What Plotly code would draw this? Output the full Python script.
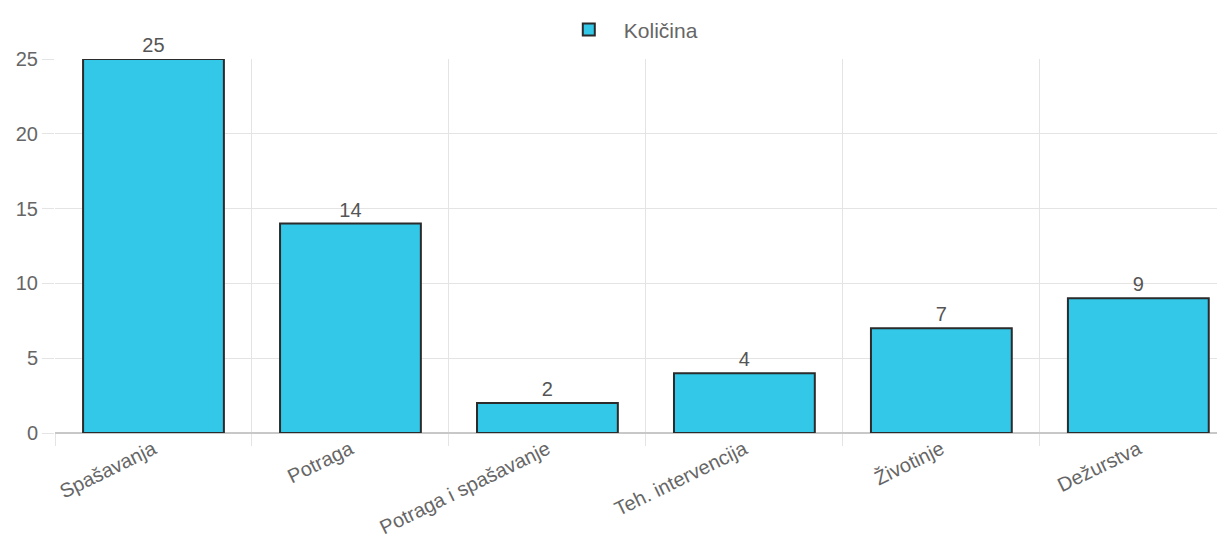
import plotly.graph_objects as go

categories = ["Spašavanja", "Potraga", "Potraga i spašavanje", "Teh. intervencija", "Životinje", "Dežurstva"]
values = [25, 14, 2, 4, 7, 9]
series_name = "Količina"
y_ticks = [0, 5, 10, 15, 20, 25]

idx = list(range(len(categories)))
bounds = [i - 0.5 for i in range(len(categories) + 1)]

FONT = "Liberation Sans, Arial, Helvetica, sans-serif"
GRID = "#e4e4e4"
TXT = "#666666"

fig = go.Figure(go.Bar(
    x=idx, y=values, name=series_name,
    width=0.715,
    marker=dict(color="#33c7e8", line=dict(color="#2b2b2b", width=2)),
    text=[str(v) for v in values], textposition="outside",
    textfont=dict(family=FONT, size=20, color="#555555"),
    cliponaxis=False,
))

fig.update_layout(
    width=1225, height=545,
    margin=dict(l=47, r=8, t=51, b=120, autoexpand=False),
    paper_bgcolor="white", plot_bgcolor="white",
    font=dict(family=FONT, size=19, color=TXT),
    showlegend=True,
    legend=dict(orientation="h", x=0.49, xanchor="center",
                yref="container", y=0.96, yanchor="middle",
                font=dict(size=21, color=TXT), itemwidth=60),
    bargap=0.2,
)

fig.update_xaxes(
    range=[-0.5, 5.44],
    tickmode="array", tickvals=idx, ticktext=categories,
    tickangle=-26, showgrid=False, ticks="",
    tickfont=dict(size=20, color=TXT),
    showline=False, zeroline=False, automargin=False,
    minor=dict(tickmode="array", tickvals=bounds, showgrid=True, gridcolor=GRID,
               gridwidth=1, ticks="outside", ticklen=12, tickcolor=GRID),
)
fig.update_yaxes(
    range=[0, 25], tickmode="array", tickvals=y_ticks,
    showgrid=True, gridcolor=GRID, gridwidth=1,
    ticks="outside", ticklen=12, tickcolor=GRID,
    zeroline=True, zerolinecolor="#c8c8c8", zerolinewidth=2,
    showline=False, tickfont=dict(size=20, color=TXT), automargin=False,
)

fig.write_html("out.html")
